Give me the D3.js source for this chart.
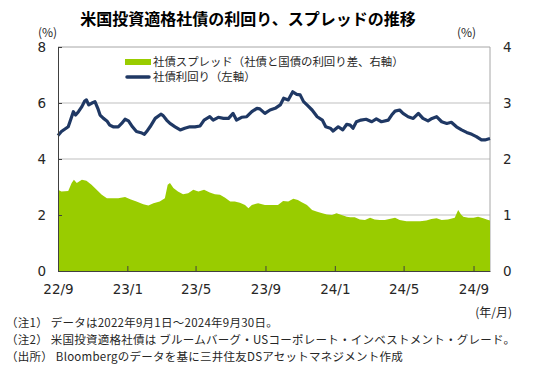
<!DOCTYPE html>
<head>
<meta charset="utf-8">
<style>
body { margin: 0; background: #fff; }
svg text { font-family: "Noto Sans CJK JP", sans-serif; fill: #262626; }
.tick-label { font-family: "DejaVu Sans", sans-serif; font-size: 13.5px; }
.grid line { stroke: #bfbfbf; stroke-width: 1; }
</style>
</head>
<body>
<svg class="chart"></svg>
<script src="https://cdnjs.cloudflare.com/ajax/libs/d3/7.8.5/d3.min.js"></script>
<script>

/* global d3 */

// 社債利回り（左軸）
const yieldDates = [
  '2022-09-01','2022-09-07','2022-09-19','2022-09-24','2022-09-28','2022-10-02','2022-10-07','2022-10-13',
  '2022-10-18','2022-10-21','2022-10-25','2022-10-30','2022-11-05','2022-11-10','2022-11-14','2022-11-20',
  '2022-11-26','2022-12-01','2022-12-07','2022-12-16','2022-12-22','2022-12-28','2023-01-03','2023-01-10',
  '2023-01-17','2023-01-25','2023-01-31','2023-02-04','2023-02-10','2023-02-19','2023-03-01','2023-03-05',
  '2023-03-11','2023-03-17','2023-03-26','2023-04-04','2023-04-12','2023-04-21','2023-04-30','2023-05-09',
  '2023-05-16','2023-05-26','2023-06-01','2023-06-10','2023-06-19','2023-06-28','2023-07-06','2023-07-12',
  '2023-07-21','2023-07-30','2023-08-08','2023-08-17','2023-08-22','2023-08-31','2023-09-09','2023-09-18',
  '2023-09-27','2023-10-03','2023-10-11','2023-10-19','2023-10-26','2023-11-01','2023-11-07','2023-11-13',
  '2023-11-22','2023-12-01','2023-12-10','2023-12-16','2023-12-24','2023-12-29','2024-01-07','2024-01-15',
  '2024-01-22','2024-01-28','2024-02-02','2024-02-08','2024-02-16','2024-02-25','2024-03-06','2024-03-14',
  '2024-03-23','2024-04-04','2024-04-10','2024-04-16','2024-04-24','2024-04-30','2024-05-09','2024-05-18',
  '2024-05-27','2024-06-04','2024-06-13','2024-06-20','2024-06-28','2024-07-07','2024-07-16','2024-07-24',
  '2024-08-02','2024-08-11','2024-08-20','2024-08-29','2024-09-06','2024-09-15','2024-09-21','2024-09-30'
]
const yieldValues = [
  4.84, 4.98, 5.15, 5.45, 5.69, 5.57, 5.69, 5.87,
  6.07, 6.11, 5.93, 5.99, 6.05, 5.81, 5.57, 5.45,
  5.36, 5.21, 5.15, 5.15, 5.27, 5.42, 5.36, 5.15,
  4.98, 4.94, 4.88, 4.98, 5.15, 5.45, 5.60, 5.55,
  5.39, 5.27, 5.15, 5.04, 5.10, 5.15, 5.15, 5.18,
  5.39, 5.51, 5.39, 5.49, 5.45, 5.45, 5.63, 5.39,
  5.49, 5.51, 5.69, 5.81, 5.79, 5.63, 5.75, 5.81,
  5.93, 6.17, 6.11, 6.40, 6.31, 6.29, 6.05, 5.93,
  5.75, 5.51, 5.39, 5.15, 5.10, 5.00, 5.15, 5.04,
  5.24, 5.21, 5.10, 5.33, 5.39, 5.42, 5.33, 5.43,
  5.33, 5.39, 5.57, 5.71, 5.75, 5.63, 5.51, 5.45,
  5.63, 5.45, 5.36, 5.45, 5.51, 5.33, 5.27, 5.31,
  5.15, 5.04, 4.95, 4.88, 4.80, 4.68, 4.68, 4.73
]

// 社債スプレッド（右軸）
const spreadDates = [
  '2022-09-01','2022-09-07','2022-09-19','2022-09-25','2022-09-29','2022-10-04','2022-10-13','2022-10-21',
  '2022-10-30','2022-11-08','2022-11-17','2022-11-26','2022-12-07','2022-12-16','2022-12-28','2023-01-06',
  '2023-01-17','2023-01-29','2023-02-07','2023-02-16','2023-02-27','2023-03-08','2023-03-13','2023-03-17',
  '2023-03-23','2023-03-31','2023-04-09','2023-04-18','2023-04-27','2023-05-06','2023-05-16','2023-05-26',
  '2023-06-04','2023-06-13','2023-06-22','2023-07-01','2023-07-09','2023-07-18','2023-07-27','2023-08-02',
  '2023-08-08','2023-08-19','2023-08-31','2023-09-12','2023-09-23','2023-10-02','2023-10-11','2023-10-20',
  '2023-10-28','2023-11-03','2023-11-13','2023-11-22','2023-12-01','2023-12-10','2023-12-18','2023-12-27',
  '2024-01-04','2024-01-13','2024-01-22','2024-01-28','2024-02-05','2024-02-14','2024-02-23','2024-03-03',
  '2024-03-11','2024-03-20','2024-03-29','2024-04-16','2024-04-24','2024-05-06','2024-05-18','2024-05-30',
  '2024-06-10','2024-06-19','2024-06-28','2024-07-07','2024-07-18','2024-07-30','2024-08-05','2024-08-10',
  '2024-08-14','2024-08-23','2024-09-01','2024-09-09','2024-09-18','2024-09-27','2024-09-30'
]
const spreadValues = [
  1.45, 1.42, 1.43, 1.57, 1.63, 1.57, 1.63, 1.61,
  1.54, 1.45, 1.36, 1.30, 1.30, 1.30, 1.32, 1.28,
  1.24, 1.19, 1.17, 1.21, 1.24, 1.30, 1.54, 1.57,
  1.48, 1.42, 1.37, 1.39, 1.45, 1.42, 1.45, 1.40,
  1.37, 1.36, 1.31, 1.24, 1.24, 1.22, 1.18, 1.12,
  1.18, 1.21, 1.18, 1.18, 1.18, 1.25, 1.24, 1.29,
  1.27, 1.23, 1.18, 1.09, 1.06, 1.03, 1.01, 1.00,
  1.03, 1.00, 0.97, 0.96, 0.96, 0.92, 0.91, 0.95,
  0.92, 0.91, 0.91, 0.95, 0.91, 0.89, 0.89, 0.89,
  0.90, 0.93, 0.94, 0.91, 0.92, 0.95, 1.09, 1.01,
  0.97, 0.95, 0.95, 0.97, 0.94, 0.91, 0.90
]

const xTickDates = ['2022-09-01','2023-01-01','2023-05-01','2023-09-01','2024-01-01','2024-05-01','2024-09-01']
const xTickLabels = ['22/9','23/1','23/5','23/9','24/1','24/5','24/9']
const leftTicks = [0, 2, 4, 6, 8]
const rightTicks = [0, 1, 2, 3, 4]

const titleText = '米国投資適格社債の利回り、スプレッドの推移'
const legendLabels = ['社債スプレッド（社債と国債の利回り差、右軸）', '社債利回り（左軸）']
const noteLines = [
  '（注1） データは2022年9月1日～2024年9月30日。',
  '（注2） 米国投資適格社債は ブルームバーグ・USコーポレート・インベストメント・グレード。',
  '（出所） Bloombergのデータを基に三井住友DSアセットマネジメント作成'
]

const width = 550
const height = 386
const plot = {left: 58, right: 490, top: 47, bottom: 271}
const green = '#99cc00'
const navy = '#1f3864'

const parse = d3.timeParse('%Y-%m-%d')
const yieldData = yieldDates.map((d, i) => ({date: parse(d), value: yieldValues[i]}))
const spreadData = spreadDates.map((d, i) => ({date: parse(d), value: spreadValues[i]}))

const x = d3.scaleTime()
  .domain([parse('2022-09-01'), parse('2024-09-30')])
  .range([plot.left, plot.right])
const yLeft = d3.scaleLinear().domain([0, 8]).range([plot.bottom, plot.top])
const yRight = d3.scaleLinear().domain([0, 4]).range([plot.bottom, plot.top])

const svg = d3.select('svg')
  .attr('width', width)
  .attr('height', height)

gridLayer()
spreadLayer()
yieldLayer()
axisLayer()
legendLayer()
textLayer()

function gridLayer() {
  svg.append('g')
    .attr('class', 'grid')
    .selectAll('line')
    .data([2, 4, 6])
    .enter()
    .append('line')
      .attr('x1', plot.left)
      .attr('x2', plot.right)
      .attr('y1', d => yLeft(d))
      .attr('y2', d => yLeft(d))

  // top border and right axis line
  svg.append('line')
    .attr('x1', plot.left).attr('x2', plot.right)
    .attr('y1', plot.top).attr('y2', plot.top)
    .attr('stroke', '#a6a6a6')
  svg.append('line')
    .attr('x1', plot.right).attr('x2', plot.right)
    .attr('y1', plot.top).attr('y2', plot.bottom)
    .attr('stroke', '#a6a6a6')
}

function spreadLayer() {
  const area = d3.area()
    .x(d => x(d.date))
    .y0(yRight(0))
    .y1(d => yRight(d.value))
  svg.append('path')
    .datum(spreadData)
    .attr('d', area)
    .attr('fill', green)
}

function yieldLayer() {
  const line = d3.line()
    .x(d => x(d.date))
    .y(d => yLeft(d.value))
  svg.append('path')
    .datum(yieldData)
    .attr('d', line)
    .attr('fill', 'none')
    .attr('stroke', navy)
    .attr('stroke-width', 3.2)
    .attr('stroke-linejoin', 'round')
}

function axisLayer() {
  const xAxis = d3.axisBottom(x)
    .tickValues(xTickDates.map(parse))
    .tickSizeInner(-5)
    .tickSizeOuter(0)
    .tickPadding(13)
    .tickFormat((d, i) => xTickLabels[i])
  const gx = svg.append('g')
    .attr('transform', `translate(0, ${plot.bottom})`)
    .call(xAxis)
  gx.select('.domain').attr('stroke', '#404040')
  gx.selectAll('.tick line').attr('stroke', '#404040')
  gx.selectAll('text').attr('class', 'tick-label').attr('fill', '#262626')

  const leftAxis = d3.axisLeft(yLeft)
    .tickValues(leftTicks)
    .tickSizeInner(-4)
    .tickSizeOuter(0)
    .tickPadding(12)
  const gl = svg.append('g')
    .attr('transform', `translate(${plot.left}, 0)`)
    .call(leftAxis)
  gl.select('.domain').attr('stroke', '#404040')
  gl.selectAll('.tick line').attr('stroke', '#404040')
  gl.selectAll('text').attr('class', 'tick-label').attr('fill', '#262626')

  const rightAxis = d3.axisRight(yRight)
    .tickValues(rightTicks)
    .tickSize(0)
    .tickPadding(13)
    .tickFormat(d3.format('d'))
  const gr = svg.append('g')
    .attr('transform', `translate(${plot.right}, 0)`)
    .call(rightAxis)
  gr.select('.domain').remove()
  gr.selectAll('text').attr('class', 'tick-label').attr('fill', '#262626')
}

function legendLayer() {
  const lg = svg.append('g').attr('transform', 'translate(125, 62)')
  lg.append('rect')
    .attr('x', 0).attr('y', -3)
    .attr('width', 26).attr('height', 6)
    .attr('fill', green)
  lg.append('line')
    .attr('x1', 2).attr('x2', 24)
    .attr('y1', 15).attr('y2', 15)
    .attr('stroke', navy)
    .attr('stroke-width', 3.5)
    .attr('stroke-linecap', 'round')
  lg.selectAll('text.legend')
    .data(legendLabels)
    .enter()
    .append('text')
      .attr('x', 28)
      .attr('y', (d, i) => i * 15 + 4)
      .style('font-size', '11.4px')
      .text(d => d)
}

function textLayer() {
  svg.append('text')
    .attr('x', 248).attr('y', 25)
    .attr('text-anchor', 'middle')
    .style('font-size', '16px')
    .style('font-weight', 'bold')
    .style('fill', '#000')
    .text(titleText)

  svg.append('text')
    .attr('x', 38).attr('y', 37)
    .style('font-size', '12px')
    .text('(%)')
  svg.append('text')
    .attr('x', 457).attr('y', 37)
    .style('font-size', '12px')
    .text('(%)')
  svg.append('text')
    .attr('x', 512).attr('y', 317)
    .attr('text-anchor', 'end')
    .style('font-size', '12px')
    .text('(年/月)')

  svg.selectAll('text.note')
    .data(noteLines)
    .enter()
    .append('text')
      .attr('class', 'note')
      .attr('x', 6)
      .attr('y', (d, i) => 327 + i * 16.8)
      .style('font-size', '11.5px')
      .style('letter-spacing', '0.25px')
      .text(d => d)
}

</script>
</body>
